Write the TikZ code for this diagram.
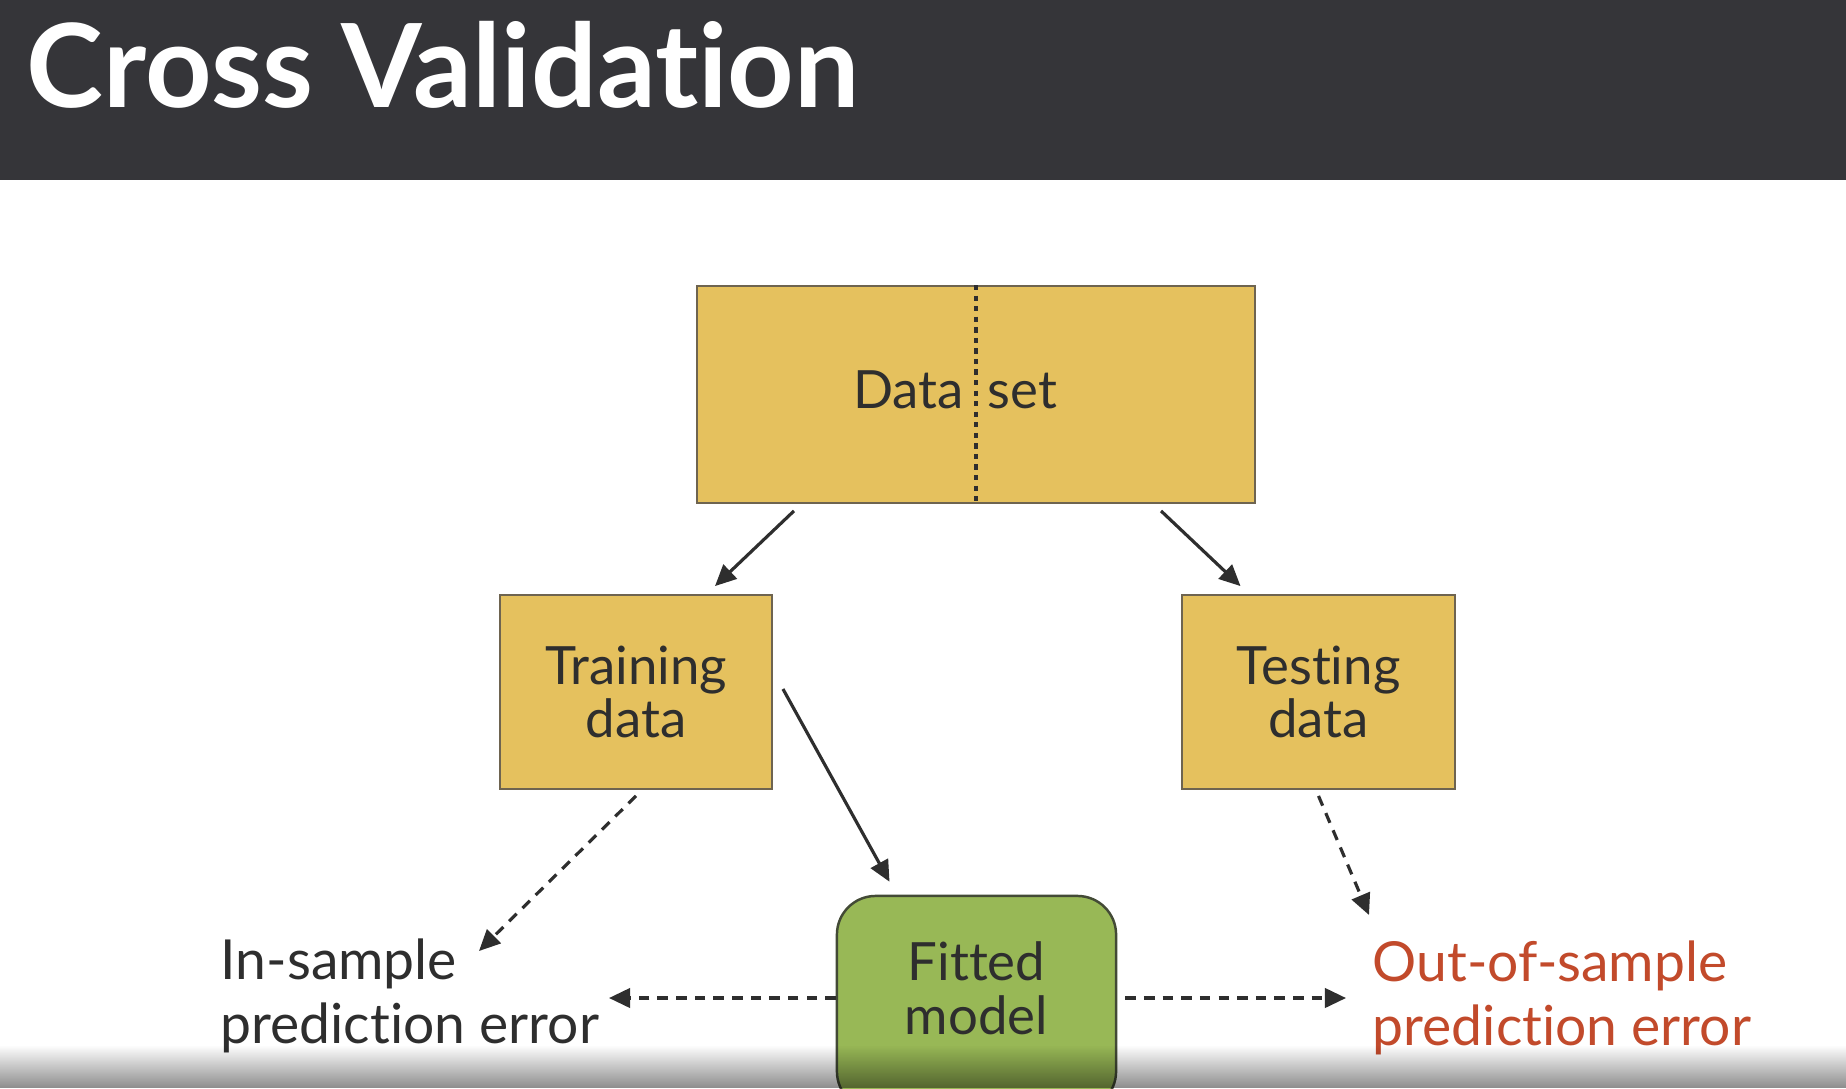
\documentclass[tikz,border=0pt]{standalone}
\usepackage{fontspec}
\setmainfont{Lato}[Ligatures={NoCommon}]
\usetikzlibrary{arrows.meta,calc,fadings}
\definecolor{barbg}{HTML}{353539}
\definecolor{boxy}{HTML}{E5C15E}
\definecolor{boxg}{HTML}{98B856}
\definecolor{txt}{HTML}{2E2E2E}
\definecolor{redt}{HTML}{C24A2B}
\definecolor{edge}{HTML}{6E6450}
\begin{document}
\begin{tikzpicture}[x=0.01cm,y=-0.01cm,
 ybox/.style={draw=edge, line width=0.5pt, fill=boxy, inner sep=0, text=txt, align=center, font=\fontsize{15}{15.2}\selectfont},
 btext/.style={text=txt, font=\fontsize{15}{15.2}\selectfont, align=center, inner sep=0},
 lab/.style={font=\fontsize{15.7}{18.2}\selectfont, align=left, inner sep=0, anchor=base west},
 conn/.style={draw=txt, line width=0.9pt, -{Triangle[length=6pt,width=5.5pt]}},
 dconn/.style={conn, dash pattern=on 3pt off 2.3pt},
]
\useasboundingbox (0,0) rectangle (1846,1088);
\fill[white] (0,0) rectangle (1846,1088);
\fill[barbg] (0,0) rectangle (1846,180);
\node[anchor=base west, text=white, font=\fontsize{33}{33}\selectfont\bfseries, inner sep=0] (title) at (26,108) {Cross Validation};

\node[ybox, minimum width=5.58cm, minimum height=2.17cm] (ds) at (976,394.5) {};
\draw[txt, line width=0.9pt, dash pattern=on 1.5pt off 1.5pt] (ds.north) -- (ds.south);
\node[btext, anchor=base] (dstext) at (955,408) {Data\hspace{0.45em}set};

\node[ybox, minimum width=2.72cm, minimum height=1.94cm] (tr) at (636,692) {Training\\data};
\node[ybox, minimum width=2.73cm, minimum height=1.94cm] (te) at (1318.5,692) {Testing\\data};

\node[draw=txt!80!boxg, line width=0.7pt, fill=boxg, rounded corners=11pt, minimum width=2.79cm, minimum height=2.14cm, inner sep=0] (fm) at (976.5,1003) {};
\node[btext, anchor=base] (fmtext) at (976.5,1034) {Fitted\\model};

\node[lab, text=txt] (ins) at (220,1043) {In-sample\\prediction error};
\node[lab, text=redt] (outs) at (1372,1045) {Out-of-sample\\prediction error};

\draw[conn] ($(ds.south west)+(98,7)$) -- ($(tr.north)+(79,-8)$);
\draw[conn] ($(ds.south east)+(-95,7)$) -- ($(te.north)+(-78,-8)$);
\draw[conn] ($(tr.east)+(10,-3)$) -- ($(fm.north)+(-87,-13)$);
\draw[dconn] ($(tr.south)+(0,6)$) -- ($(ins.base west)+(259,-92)$);
\draw[dconn] ($(te.south)+(0,6)$) -- ($(outs.base west)+(-3,-130)$);
\draw[dconn] ($(fm.west)+(0,-5)$) -- (609,998) coordinate (inend);
\draw[dconn] ($(fm.east)+(8,-5)$) -- (1346,998) coordinate (outend);

\fill[black, opacity=0.45, path fading=north] (0,1045) rectangle (1846,1088);
\end{tikzpicture}
\end{document}
